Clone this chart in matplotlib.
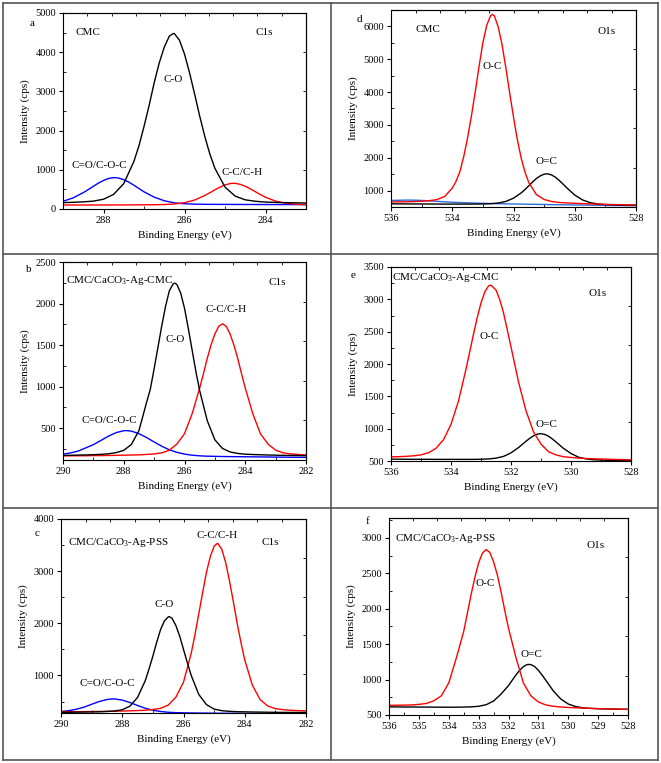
import numpy as np
import matplotlib
matplotlib.use("Agg")
import matplotlib.pyplot as plt
from matplotlib.lines import Line2D

plt.rcParams["font.family"] = "Liberation Serif"
plt.rcParams["mathtext.fontset"] = "custom"
plt.rcParams["mathtext.rm"] = "Liberation Serif"
plt.rcParams["mathtext.default"] = "regular"

# ---- data (binding energy, eV; intensity, cps) ----
# each curve: values on a 0.25 eV grid + extra points read around the peak top
grid_a = np.arange(289.0, 282.99, -0.25)
grid_bc = np.arange(290.0, 281.99, -0.25)
grid_o = np.arange(536.0, 527.99, -0.25)

# panel a: CMC C1s
a_co = [163, 171, 182, 201, 249, 373, 647, 1213, 2104, 3214, 4127, 4475, 3953,
        2931, 1856, 1039, 560, 329, 234, 197, 177, 168, 162, 157, 152]
a_co_extra = [(287.125, 1611), (286.875, 2635), (286.625, 3722), (286.375, 4410),
              (286.28, 4475), (286.125, 4307), (285.875, 3475), (285.625, 2370),
              (285.375, 1405)]
a_coc = [196, 283, 417, 579, 728, 800, 747, 607, 438, 303, 210, 157, 134, 124,
         120, 118, 117, 116, 115, 115, 114, 113, 113, 112, 112]
a_coc_extra = [(288.375, 496), (288.125, 661), (287.875, 779), (287.73, 800),
               (287.625, 789), (287.375, 685), (287.125, 523)]
a_cc = [102, 102, 102, 103, 103, 104, 104, 105, 107, 109, 114, 128, 161, 228,
        345, 489, 613, 654, 581, 441, 300, 200, 147, 122, 112]
a_cc_extra = [(285.375, 415), (285.125, 558), (284.875, 649), (284.79, 656),
              (284.625, 630), (284.375, 514), (284.125, 368)]

# panel b: CMC/CaCO3-Ag-CMC C1s
b_co = [170, 172, 174, 176, 179, 183, 190, 204, 231, 302, 469, 807, 1213, 1729,
        2152, 2229, 1944, 1441, 949, 588, 358, 254, 212, 194, 185, 181, 178,
        175, 173, 171, 170, 168, 167]
b_co_extra = [(287.125, 969), (286.875, 1470), (286.625, 1964), (286.375, 2236),
              (286.32, 2246), (286.125, 2125), (285.875, 1699), (285.625, 1180)]
b_cc = [165, 165, 166, 166, 168, 168, 170, 171, 173, 175, 177, 182, 188, 201,
        233, 307, 431, 671, 982, 1341, 1633, 1756, 1633, 1341, 982, 671, 431,
        307, 233, 201, 188, 182, 177]
b_cc_extra = [(285.375, 1158), (285.125, 1502), (284.875, 1724), (284.625, 1724),
              (284.375, 1502), (284.125, 1158)]
b_coc = [186, 200, 223, 261, 300, 351, 403, 445, 468, 463, 432, 386, 332, 281,
         238, 207, 186, 173, 165, 161, 159, 157, 156, 155, 154, 153, 152, 151,
         150, 149, 148, 147, 146]
b_coc_extra = [(287.91, 469)]

# panel c: CMC/CaCO3-Ag-PSS C1s
c_cc = [304, 305, 305, 306, 308, 310, 312, 314, 318, 322, 327, 333, 347, 369,
        431, 583, 871, 1420, 2187, 2979, 3480, 3419, 2818, 2009, 1298, 812,
        538, 415, 363, 344, 332, 326, 321]
c_cc_extra = [(285.625, 1783), (285.375, 2588), (285.125, 3280), (284.90, 3530),
              (284.875, 3529), (284.625, 3170), (284.375, 2423), (284.125, 1634)]
c_co = [293, 294, 296, 298, 301, 303, 309, 318, 342, 410, 579, 898, 1371, 1877,
        2121, 1959, 1499, 1003, 635, 441, 355, 324, 312, 305, 302, 299, 297,
        295, 293, 292, 291, 291, 290]
c_co_extra = [(287.125, 1125), (286.875, 1637), (286.625, 2045), (286.47, 2130),
              (286.375, 2097), (286.125, 1755), (285.875, 1245)]
c_coc = [309, 324, 352, 392, 447, 500, 539, 550, 528, 481, 424, 371, 333, 309,
         294, 287, 283, 281, 279, 278, 276, 275, 275, 274, 273, 271, 271, 270,
         269, 268, 267, 266, 265]
c_coc_extra = [(288.29, 551)]

# panel d: CMC O1s
d_oc = [652, 657, 659, 666, 673, 692, 727, 818, 1075, 1581, 2607, 4001, 5501,
        6325, 5987, 4743, 3240, 1995, 1242, 876, 729, 666, 638, 624, 613, 604,
        594, 587, 580, 575, 570, 564, 561]
d_oc_extra = [(533.875, 1284), (533.625, 2036), (533.375, 3269), (533.125, 4780),
              (532.875, 6031), (532.69, 6365), (532.625, 6323), (532.375, 5449),
              (532.125, 3974), (531.875, 2553), (531.625, 1565)]
d_o2c = [597, 595, 594, 593, 592, 591, 590, 589, 589, 588, 589, 589, 592, 600,
         620, 669, 769, 928, 1148, 1370, 1500, 1474, 1303, 1075, 865, 717, 634,
         592, 573, 565, 559, 556, 553]
d_o2c_extra = [(531.625, 1033), (531.375, 1262), (531.125, 1449), (530.91, 1510),
               (530.875, 1508), (530.625, 1403), (530.375, 1191)]
d_bg = [700, 705, 710, 708, 700, 688, 673, 658, 645, 635, 626, 619, 612, 606,
        601, 596, 592, 588, 584, 580, 576, 572, 568, 565, 562, 559, 556, 553,
        550, 547, 544, 541, 538]

# panel e: CMC/CaCO3-Ag-CMC O1s
e_oc = [565, 567, 572, 580, 595, 627, 696, 830, 1066, 1429, 1920, 2461, 2944,
        3207, 3144, 2792, 2265, 1724, 1277, 951, 761, 644, 594, 566, 555, 545,
        539, 534, 530, 527, 523, 521, 518]
e_oc_extra = [(533.125, 2719), (532.875, 3113), (532.67, 3220), (532.375, 2995),
              (532.125, 2532)]
e_o2c = [529, 528, 527, 526, 526, 526, 525, 525, 525, 525, 525, 525, 527, 532,
         544, 571, 626, 708, 805, 889, 922, 883, 794, 695, 616, 559, 533, 520,
         514, 511, 509, 508, 506]
e_o2c_extra = [(531.375, 851), (531.125, 915), (531.01, 923), (530.875, 911),
               (530.625, 842)]

# panel f: CMC/CaCO3-Ag-PSS O1s
f_oc = [637, 638, 639, 642, 650, 663, 700, 770, 952, 1299, 1678, 2203, 2647,
        2835, 2662, 2240, 1725, 1309, 951, 770, 684, 642, 623, 613, 606, 602,
        597, 594, 590, 587, 584, 582, 579]
f_oc_extra = [(533.375, 1941), (533.125, 2441), (532.875, 2782), (532.625, 2794),
              (532.375, 2478), (532.125, 1975)]
f_o2c = [615, 614, 613, 613, 612, 612, 611, 610, 610, 610, 612, 615, 623, 645,
         697, 795, 915, 1066, 1183, 1210, 1131, 990, 840, 726, 655, 619, 600,
         593, 588, 586, 584, 582, 580]
f_o2c_extra = [(531.625, 1131), (531.375, 1212), (531.31, 1214), (531.125, 1184),
               (530.875, 1063)]


def merge(grid, vals, extra):
    x = np.append(grid, [p[0] for p in extra])
    y = np.append(np.asarray(vals, float), [p[1] for p in extra])
    o = np.argsort(x)
    return x[o], y[o]


W, H = 661, 763
fig = plt.figure(figsize=(W / 100, H / 100), dpi=100)


def px_axes(l, t, r, b):
    return fig.add_axes([l / W, 1 - b / H, (r - l) / W, (b - t) / H])


def style(ax, xlim, ylim, xt, yt, xminor, yminor):
    ax.set_xlim(*xlim)
    ax.set_ylim(*ylim)
    ax.set_xticks(xt)
    ax.set_yticks(yt)
    ax.set_xticks(xminor, minor=True)
    ax.set_yticks(yminor, minor=True)
    ax.tick_params(which="major", direction="out", length=3, width=0.8,
                   labelsize=7.5, pad=2)
    ax.tick_params(which="minor", direction="in", length=2, width=0.6)
    for s in ax.spines.values():
        s.set_linewidth(0.8)
    top = ax.secondary_xaxis("top")
    top.set_xticks(np.linspace(xlim[0], xlim[1], 11))
    top.tick_params(direction="in", length=2.5, width=0.6, labeltop=False)
    right = ax.secondary_yaxis("right")
    right.set_yticks(np.linspace(ylim[0], ylim[1], 6))
    right.tick_params(direction="in", length=2.5, width=0.6, labelright=False)
    ax.set_xlabel("Binding Energy (eV)", fontsize=8, labelpad=4)
    ax.set_ylabel("Intensity (cps)", fontsize=8, labelpad=4)


def draw(ax, grid, series):
    for vals, extra, color in series:
        x, y = merge(grid, vals, extra)
        ax.plot(x, y, color=color, lw=1.0)


fs = 8

# a
ax = px_axes(63, 13, 306, 209)
draw(ax, grid_a, [(a_coc, a_coc_extra, "blue"), (a_cc, a_cc_extra, "red"),
                  (a_co, a_co_extra, "black")])
style(ax, (289, 283), (0, 5000), [288, 286, 284], range(0, 5001, 1000),
      [287, 285, 283], range(500, 5000, 1000))
ax.text(0.053, 0.90, "CMC", transform=ax.transAxes, fontsize=fs, va="center")
ax.text(0.83, 0.90, "C1s", transform=ax.transAxes, fontsize=fs, va="center", ha="center")
ax.text(286.28, 3313, "C-O", fontsize=fs, ha="center", va="center")
ax.text(288.1, 1107, "C=O/C-O-C", fontsize=fs, ha="center", va="center")
ax.text(284.57, 928, "C-C/C-H", fontsize=fs, ha="center", va="center")

# d
ax = px_axes(391, 10, 636, 207)
ax.plot(grid_o, d_bg, color="#2a6bd6", lw=1.0)
draw(ax, grid_o, [(d_o2c, d_o2c_extra, "black"), (d_oc, d_oc_extra, "red")])
style(ax, (536, 528), (500, 6500), range(536, 527, -2), range(1000, 6001, 1000),
      range(535, 528, -2), range(1500, 6500, 1000))
ax.text(0.10, 0.90, "CMC", transform=ax.transAxes, fontsize=fs, va="center")
ax.text(0.88, 0.89, "O1s", transform=ax.transAxes, fontsize=fs, va="center", ha="center")
ax.text(532.69, 4783, "O-C", fontsize=fs, ha="center", va="center")
ax.text(530.91, 1872, "O=C", fontsize=fs, ha="center", va="center")

# b
ax = px_axes(63, 262, 306, 460)
draw(ax, grid_bc, [(b_coc, b_coc_extra, "blue"), (b_cc, b_cc_extra, "red"),
                   (b_co, b_co_extra, "black")])
style(ax, (290, 282), (115, 2500), range(290, 281, -2), range(500, 2501, 500),
      range(289, 282, -2), range(250, 2500, 500))
ax.text(0.012, 0.905, "CMC/CaCO$_3$-Ag-CMC", transform=ax.transAxes, fontsize=fs, va="center")
ax.text(0.88, 0.895, "C1s", transform=ax.transAxes, fontsize=fs, va="center", ha="center")
ax.text(286.32, 1562, "C-O", fontsize=fs, ha="center", va="center")
ax.text(284.62, 1925, "C-C/C-H", fontsize=fs, ha="center", va="center")
ax.text(288.46, 589, "C=O/C-O-C", fontsize=fs, ha="center", va="center")

# e
ax = px_axes(391, 267, 631, 461)
draw(ax, grid_o, [(e_o2c, e_o2c_extra, "black"), (e_oc, e_oc_extra, "red")])
style(ax, (536, 528), (500, 3500), range(536, 527, -2), range(500, 3501, 500),
      range(535, 528, -2), range(750, 3500, 500))
ax.text(0.005, 0.945, "CMC/CaCO$_3$-Ag-CMC", transform=ax.transAxes, fontsize=fs, va="center")
ax.text(0.86, 0.864, "O1s", transform=ax.transAxes, fontsize=fs, va="center", ha="center")
ax.text(532.72, 2430, "O-C", fontsize=fs, ha="center", va="center")
ax.text(530.83, 1071, "O=C", fontsize=fs, ha="center", va="center")

# c
ax = px_axes(61, 519, 306, 713)
draw(ax, grid_bc, [(c_coc, c_coc_extra, "blue"), (c_cc, c_cc_extra, "red"),
                   (c_co, c_co_extra, "black")])
style(ax, (290, 282), (280, 4000), range(290, 281, -2), range(1000, 4001, 1000),
      range(289, 282, -2), range(500, 4000, 1000))
ax.text(0.03, 0.877, "CMC/CaCO$_3$-Ag-PSS", transform=ax.transAxes, fontsize=fs, va="center")
ax.text(0.856, 0.88, "C1s", transform=ax.transAxes, fontsize=fs, va="center", ha="center")
ax.text(284.90, 3693, "C-C/C-H", fontsize=fs, ha="center", va="center")
ax.text(286.63, 2366, "C-O", fontsize=fs, ha="center", va="center")
ax.text(288.49, 840, "C=O/C-O-C", fontsize=fs, ha="center", va="center")

# f
ax = px_axes(389, 518, 628, 715)
draw(ax, grid_o, [(f_o2c, f_o2c_extra, "black"), (f_oc, f_oc_extra, "red")])
style(ax, (536, 528), (500, 3280), range(536, 527, -1), range(500, 3001, 500),
      np.arange(535.5, 528, -1), range(750, 3280, 500))
ax.text(0.025, 0.897, "CMC/CaCO$_3$-Ag-PSS", transform=ax.transAxes, fontsize=fs, va="center")
ax.text(0.864, 0.86, "O1s", transform=ax.transAxes, fontsize=fs, va="center", ha="center")
ax.text(532.77, 2349, "O-C", fontsize=fs, ha="center", va="center")
ax.text(531.24, 1349, "O=C", fontsize=fs, ha="center", va="center")

# panel letters
for letter, (x, y) in {"a": (32, 24), "d": (359, 19), "b": (29, 270),
                       "e": (353, 276), "c": (37, 533), "f": (367, 522)}.items():
    fig.text(x / W, 1 - y / H, letter, fontsize=fs, ha="center", va="center")

# table borders
lc = "#555555"
for (x0, y0, x1, y1) in [(3, 3, 658, 3), (3, 760, 658, 760), (3, 3, 3, 760),
                         (658, 3, 658, 760), (330.5, 3, 330.5, 760),
                         (3, 254, 658, 254), (3, 508, 658, 508)]:
    fig.add_artist(Line2D([x0 / W, x1 / W], [1 - y0 / H, 1 - y1 / H],
                          transform=fig.transFigure, color=lc, lw=1.2))

fig.savefig("out.png", dpi=100)
